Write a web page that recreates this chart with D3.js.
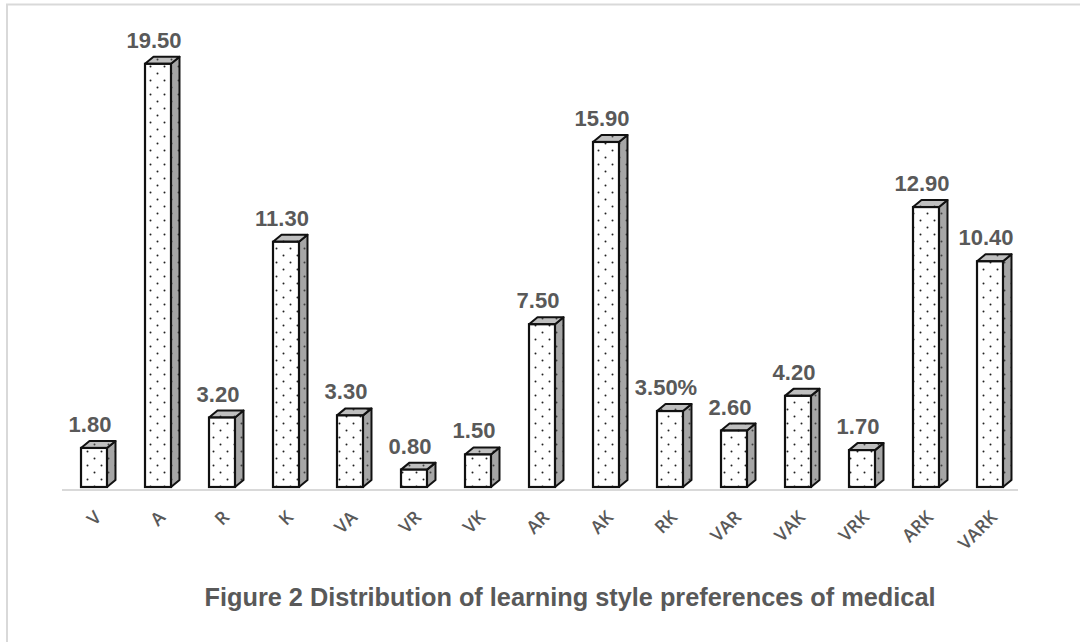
<!DOCTYPE html>
<html>
<head>
<meta charset="utf-8">
<script src="https://cdn.jsdelivr.net/npm/d3@7"></script>
<style>
  html, body { margin: 0; padding: 0; background: #fff; }
  svg { display: block; }
</style>
</head>
<body>
<svg id="chart" width="1080" height="642"></svg>
<script>
// Learning style categories (VARK) and their share of students
const categories = ["V", "A", "R", "K", "VA", "VR", "VK", "AR", "AK", "RK", "VAR", "VAK", "VRK", "ARK", "VARK"];
const values = [1.8, 19.5, 3.2, 11.3, 3.3, 0.8, 1.5, 7.5, 15.9, 3.5, 2.6, 4.2, 1.7, 12.9, 10.4];
const valueLabels = ["1.80", "19.50", "3.20", "11.30", "3.30", "0.80", "1.50", "7.50", "15.90", "3.50%", "2.60", "4.20", "1.70", "12.90", "10.40"];
const titleText = "Figure 2 Distribution of learning style preferences of medical";

const svg = d3.select("#chart");
const textColor = "#595959";

// chart frame (top and left edges)
svg.append("line").attr("x1", 6).attr("x2", 1080).attr("y1", 4.5).attr("y2", 4.5)
  .attr("stroke", "#d9d9d9").attr("stroke-width", 2);
svg.append("line").attr("x1", 7).attr("x2", 7).attr("y1", 4).attr("y2", 642)
  .attr("stroke", "#d9d9d9").attr("stroke-width", 2);

// dotted fill patterns for the three faces of each box
const defs = svg.append("defs");
function dotPattern(id, bg, dot) {
  const p = defs.append("pattern").attr("id", id)
    .attr("patternUnits", "userSpaceOnUse").attr("width", 14).attr("height", 14);
  p.append("rect").attr("width", 14).attr("height", 14).attr("fill", bg);
  p.append("circle").attr("cx", 3.5).attr("cy", 3.5).attr("r", 1).attr("fill", dot);
  p.append("circle").attr("cx", 10.5).attr("cy", 10.5).attr("r", 1).attr("fill", dot);
}
dotPattern("dotFront", "#ffffff", "#222222");
dotPattern("dotSide", "#a6a6a6", "#404040");
dotPattern("dotTop", "#bfbfbf", "#404040");

const x = d3.scaleBand().domain(categories).range([62, 1022])
  .paddingInner(0.594).paddingOuter(0.297);
const y = d3.scaleLinear().domain([0, 20]).range([487, 53]);

const depthX = 8.5, depthY = 7;

// category axis baseline
svg.append("line").attr("x1", 62).attr("x2", 1018).attr("y1", 490).attr("y2", 490)
  .attr("stroke", "#d9d9d9").attr("stroke-width", 2);

const data = categories.map((c, i) => ({ c, v: values[i], label: valueLabels[i] }));

const bars = svg.append("g").selectAll("g").data(data).join("g");

bars.each(function(d) {
  const g = d3.select(this);
  const x0 = x(d.c), w = x.bandwidth();
  const x1 = x0 + w;
  const top = y(d.v), bottom = y(0);
  // right side face
  g.append("path")
    .attr("d", `M${x1},${bottom} L${x1 + depthX},${bottom - depthY} L${x1 + depthX},${top - depthY} L${x1},${top} Z`)
    .attr("fill", "url(#dotSide)").attr("stroke", "#111").attr("stroke-width", 2).attr("stroke-linejoin", "round");
  // top face
  g.append("path")
    .attr("d", `M${x0},${top} L${x0 + depthX},${top - depthY} L${x1 + depthX},${top - depthY} L${x1},${top} Z`)
    .attr("fill", "url(#dotTop)").attr("stroke", "#111").attr("stroke-width", 2).attr("stroke-linejoin", "round");
  // front face
  g.append("rect")
    .attr("x", x0).attr("y", top).attr("width", w).attr("height", bottom - top)
    .attr("fill", "url(#dotFront)").attr("stroke", "#111").attr("stroke-width", 2.2);
});

// value labels
svg.append("g").selectAll("text").data(data).join("text")
  .attr("x", d => x(d.c) + x.bandwidth() / 2 - 4)
  .attr("y", d => y(d.v) - 16)
  .attr("text-anchor", "middle")
  .attr("font-family", "'Liberation Sans', Arial, sans-serif")
  .attr("font-weight", "bold")
  .attr("font-size", 22)
  .attr("fill", textColor)
  .text(d => d.label);

// rotated category labels
svg.append("g").selectAll("text").data(categories).join("text")
  .attr("transform", c => `translate(${x(c) + x.bandwidth() / 2 + 4},${514}) rotate(-45)`)
  .attr("text-anchor", "end")
  .attr("dy", "0.35em")
  .attr("font-family", "'Open Sans', 'Liberation Sans', sans-serif")
  .attr("font-weight", 600)
  .attr("font-size", 18)
  .attr("fill", textColor)
  .text(c => c);

// figure caption
svg.append("text")
  .attr("x", 570).attr("y", 606)
  .attr("text-anchor", "middle")
  .attr("font-family", "'Liberation Sans', Arial, sans-serif")
  .attr("font-weight", "bold")
  .attr("font-size", 25.3)
  .attr("fill", textColor)
  .text(titleText);
</script>
</body>
</html>
